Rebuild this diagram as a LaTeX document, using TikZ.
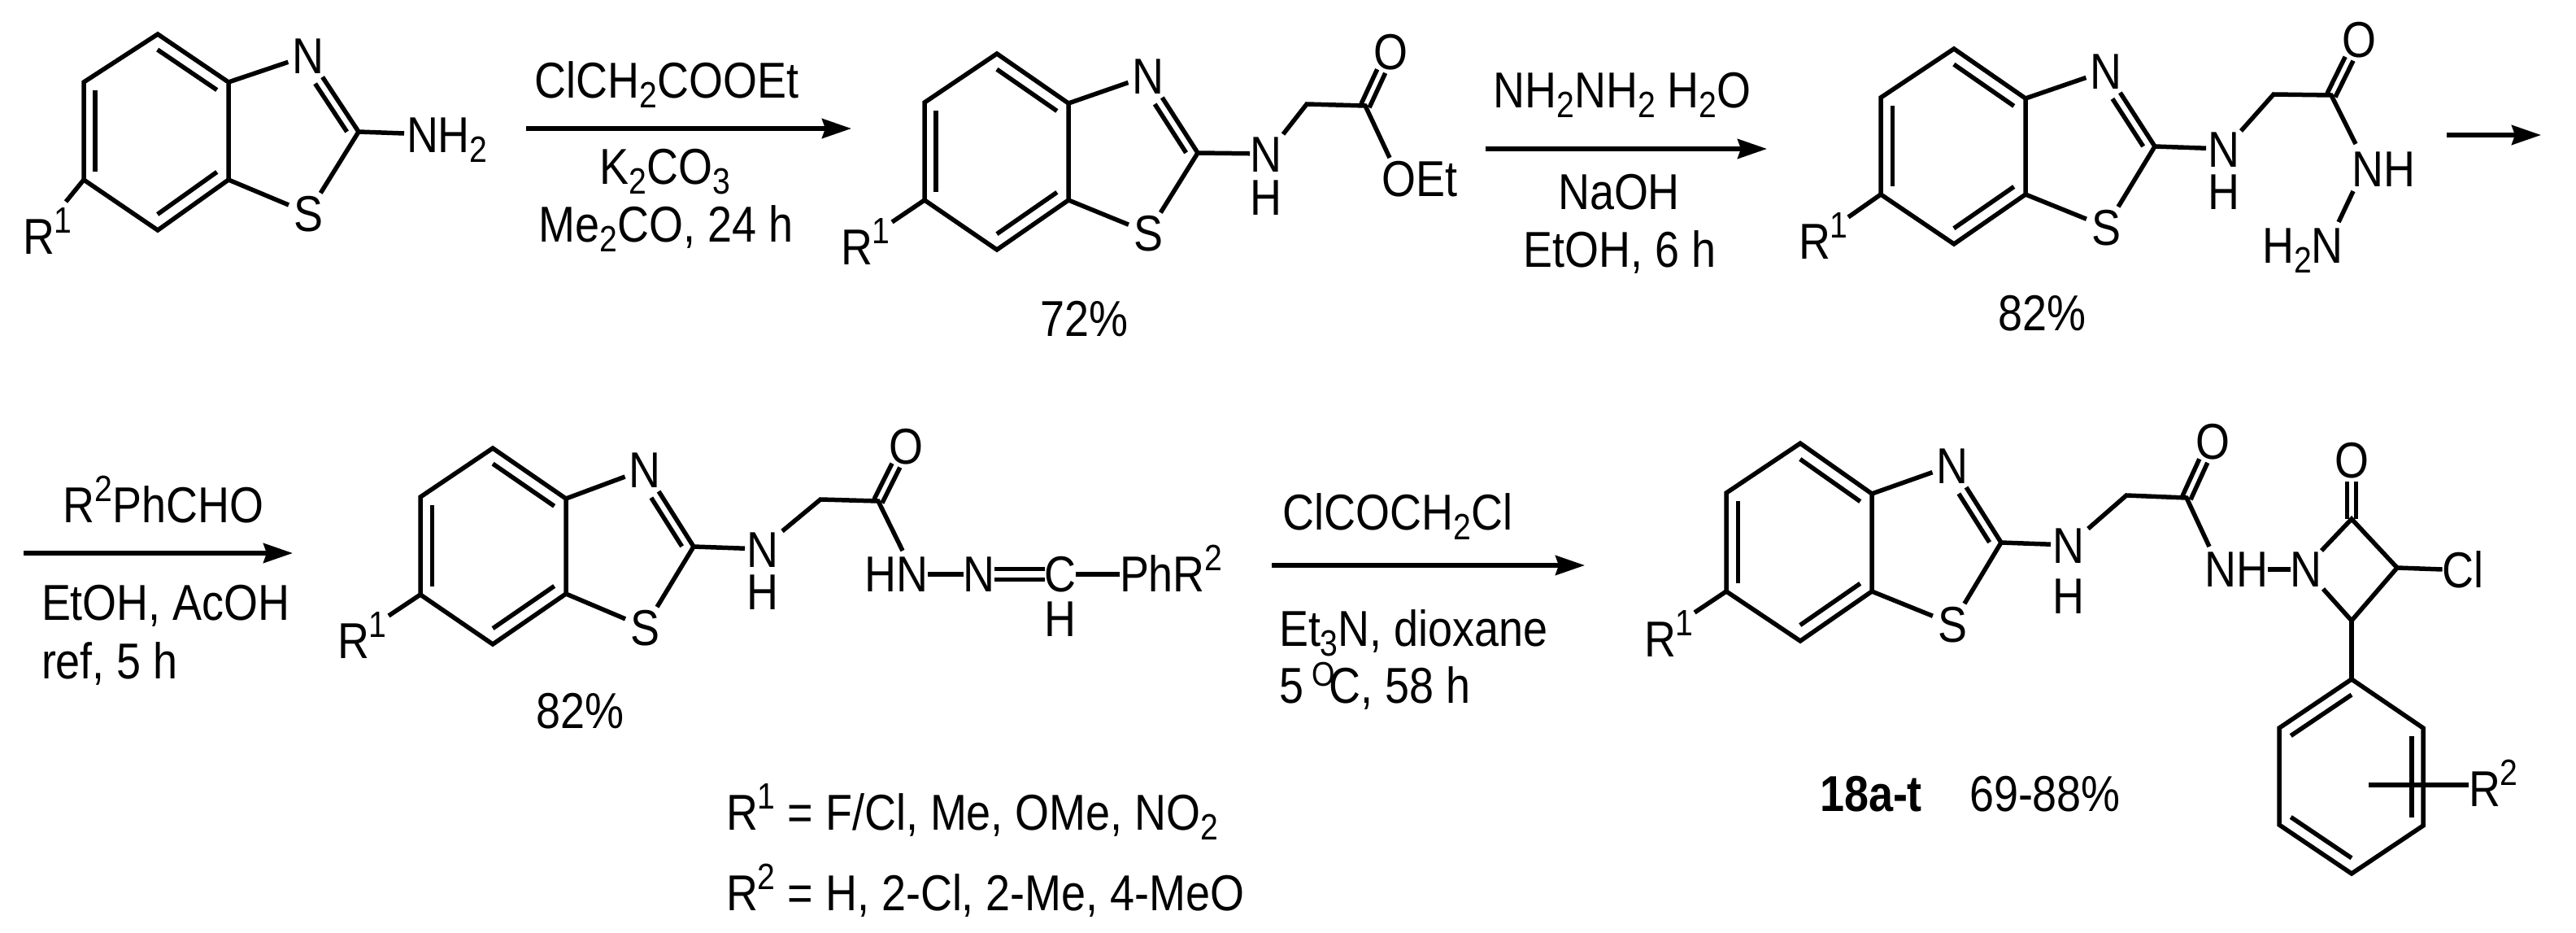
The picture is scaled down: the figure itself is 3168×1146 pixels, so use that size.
\documentclass[tikz,border=0pt]{standalone}
\usepackage{fontspec}
\setmainfont{Liberation Sans}[FakeStretch=0.87]
\usetikzlibrary{calc,arrows.meta}
\newcommand{\sbs}[1]{\raisebox{-12pt}{\fontsize{45}{45}\selectfont #1}}
\newcommand{\sps}[1]{\raisebox{26pt}{\fontsize{45}{45}\selectfont #1}}
\newcommand{\atxt}[1]{\smash{\raisebox{-22pt}{\makebox[0pt]{#1}}}}
\tikzset{
  bond/.style={line width=5.5pt,line cap=butt,line join=miter},
  rxn/.style={line width=5.5pt,-{Stealth[length=36pt,width=24pt,inset=4pt]}},
  lab/.style={inner sep=0pt,outer sep=0pt,font=\fontsize{62}{62}\selectfont},
  tight/.style={lab,anchor=center},
  atom/.style={lab,circle,minimum size=52pt}
}
% inner line of a ring double bond
\newcommand{\innr}[3]{\draw[bond] ($(#1)!.84!(#2)$) -- ($(#1)!.84!(#3)$);}
% double bond from atom #1 to labelled atom #2
\newcommand{\dbl}[2]{%
  \draw[bond] ($(#1)!5.5pt!90:(#2)$) -- ($(#2)!27pt!(#1)!5.5pt!-90:(#1)$);
  \draw[bond] ($(#1)!5.5pt!-90:(#2)$) -- ($(#2)!27pt!(#1)!5.5pt!90:(#1)$);}
% benzothiazole core, drawn from the coordinates with prefix #1
\newcommand{\core}[1]{%
  \coordinate (#1O) at ($(#1UL)!.5!(#1LR)$);
  \draw[bond] (#1T)--(#1UL)--(#1LL)--(#1B)--(#1LR)--(#1UR)--cycle;
  \innr{#1O}{#1UL}{#1LL}
  \innr{#1O}{#1T}{#1UR}
  \innr{#1O}{#1LR}{#1B}
  \node[atom] (#1n) at (#1Np) {\atxt{N}};
  \node[atom] (#1s) at (#1Sp) {\atxt{S}};
  \draw[bond] (#1UR)--(#1n);
  \draw[bond] (#1LR)--(#1s);
  \draw[bond,shorten >=6pt] (#1C)--(#1n);
  \draw[bond,shorten >=3pt] (#1C)--(#1s);
  \draw[bond] ($(#1C)!.07!(#1n)!12pt!90:(#1n)$) -- ($(#1C)!.70!(#1n)!12pt!90:(#1n)$);
}
\begin{document}
\begin{tikzpicture}[x=1pt,y=-1pt]
\useasboundingbox (0,0) rectangle (3168,1146);
\fill[white] (0,0) rectangle (3168,1146);

% ---------- molecule a
\path coordinate (aT) at (194,42) coordinate (aUL) at (103,101) coordinate (aLL) at (103,221)
      coordinate (aB) at (194,283) coordinate (aLR) at (281,221) coordinate (aUR) at (281,101)
      coordinate (aC) at (441,162) coordinate (aNp) at (379,68) coordinate (aSp) at (379,262);
\core{a}
\node[lab,anchor=base west] (anh) at (500,187) {NH\sbs{2}};
\coordinate (aq) at (497,164);
\draw[bond] (aC)--(aq);
\node[lab,anchor=base west] (ar) at (28,312) {R\sps{1}};
\coordinate (arb) at (81,248);
\draw[bond] (aLL)--(arb);

% arrow 1
\coordinate (r1a) at (647,158); \coordinate (r1b) at (1047,158);
\draw[rxn] (r1a)--(r1b);
\node[lab,anchor=base] (t1a) at (820,120) {ClCH\sbs{2}COOEt};
\node[lab,anchor=base] (t1b) at (818,226) {K\sbs{2}CO\sbs{3}};
\node[lab,anchor=base] (t1c) at (819,297) {Me\sbs{2}CO, 24 h};

% ---------- molecule b
\path coordinate (bT) at (1226,66) coordinate (bUL) at (1137,126) coordinate (bLL) at (1137,246)
      coordinate (bB) at (1226,307) coordinate (bLR) at (1314,246) coordinate (bUR) at (1314,127)
      coordinate (bC) at (1473,188) coordinate (bNp) at (1412,93) coordinate (bSp) at (1412,286);
\core{b}
\node[atom] (bnh) at (1557,189) {\atxt{N}};
\node[atom] (bh) at (1557,242) {\atxt{H}};
\coordinate (bch) at (1607,128); \coordinate (bco) at (1679,130);
\node[atom] (bo) at (1710,63) {\atxt{O}};
\node[lab,anchor=base] (boet) at (1746,241) {OEt};
\coordinate (bq) at (1709,194); \coordinate (bp) at (1578,165);
\draw[bond,shorten >=-6pt] (bC)--(bnh);
\draw[bond] (bp)--(bch)--(bco)--(bq);
\dbl{bco}{bo}
\node[lab,anchor=base west] (br) at (1034,325) {R\sps{1}};
\coordinate (brb) at (1097,273);
\draw[bond] (bLL)--(brb);
\node[lab,anchor=base] (by) at (1333,413) {72\%};

% arrow 2
\coordinate (r2a) at (1827,183); \coordinate (r2b) at (2173,183);
\draw[rxn] (r2a)--(r2b);
\node[lab,anchor=base] (t2a) at (1995,132) {NH\sbs{2}NH\sbs{2} H\sbs{2}O};
\node[lab,anchor=base] (t2b) at (1991,257) {NaOH};
\node[lab,anchor=base] (t2c) at (1992,328) {EtOH, 6 h};

% ---------- molecule c
\path coordinate (cT) at (2403,60) coordinate (cUL) at (2313,120) coordinate (cLL) at (2313,239)
      coordinate (cB) at (2403,300) coordinate (cLR) at (2491,239) coordinate (cUR) at (2491,121)
      coordinate (cC) at (2650,180) coordinate (cNp) at (2590,87) coordinate (cSp) at (2590,279);
\core{c}
\node[atom] (cnh) at (2735,183) {\atxt{N}};
\node[atom] (ch) at (2735,235) {\atxt{H}};
\coordinate (cch) at (2796,116); \coordinate (cco) at (2867,117);
\node[atom] (co) at (2901,48) {\atxt{O}};
\node[atom] (cnh2) at (2931,207) {\atxt{NH}};
\node[lab,anchor=base] (ch2n) at (2832,323) {H\sbs{2}N};
\coordinate (cq) at (2897,177); \coordinate (cp) at (2756,161);
\coordinate (cna) at (2894,235); \coordinate (cnb) at (2876,273);
\draw[bond,shorten >=-4pt] (cC)--(cnh);
\draw[bond] (cp)--(cch)--(cco)--(cq);
\draw[bond] (cna)--(cnb);
\dbl{cco}{co}
\node[lab,anchor=base west] (cr) at (2212,318) {R\sps{1}};
\coordinate (crb) at (2273,267);
\draw[bond] (cLL)--(crb);
\node[lab,anchor=base] (cy) at (2511,406) {82\%};

% arrow 3
\coordinate (r3a) at (3009,166); \coordinate (r3b) at (3125,166);
\draw[rxn] (r3a)--(r3b);

% arrow 4
\coordinate (r4a) at (29,680); \coordinate (r4b) at (360,680);
\draw[rxn] (r4a)--(r4b);
\node[lab,anchor=base] (t4a) at (201,642) {R\sps{2}PhCHO};
\node[lab,anchor=base west] (t4b) at (51,762) {EtOH, AcOH};
\node[lab,anchor=base west] (t4c) at (51,834) {ref, 5 h};

% ---------- molecule d
\path coordinate (dT) at (606,551) coordinate (dUL) at (517,611) coordinate (dLL) at (517,731)
      coordinate (dB) at (606,792) coordinate (dLR) at (696,730) coordinate (dUR) at (696,613)
      coordinate (dC) at (853,672) coordinate (dNp) at (793,577) coordinate (dSp) at (793,771);
\core{d}
\node[atom] (dnh) at (938,675) {\atxt{N}};
\node[atom] (dh) at (938,727) {\atxt{H}};
\coordinate (dch) at (1009,614); \coordinate (dco) at (1080,616);
\node[atom] (do) at (1114,548) {\atxt{O}};
\node[tight] (dhn) at (1102,706) {HN};
\node[tight] (dn) at (1204,706) {N};
\node[tight] (dc) at (1304,706) {C};
\node[atom] (dh2) at (1304,760) {\atxt{H}};
\node[lab,anchor=base west] (dp) at (1377,727) {PhR\sps{2}};
\coordinate (dq) at (1110,677); \coordinate (dpp) at (962,653);
\draw[bond,shorten >=-4pt] (dC)--(dnh);
\draw[bond] (dpp)--(dch)--(dco)--(dq);
\dbl{dco}{do}
\draw[bond] (dhn.east)--(dn.west);
\draw[bond] ([yshift=6.5pt]dn.east)--([yshift=6.5pt]dc.west);
\draw[bond] ([yshift=-6.5pt]dn.east)--([yshift=-6.5pt]dc.west);
\draw[bond] (dc.east)--(dc.east -| dp.west);
\node[lab,anchor=base west] (dr) at (415,809) {R\sps{1}};
\coordinate (drb) at (478,757);
\draw[bond] (dLL)--(drb);
\node[lab,anchor=base] (dy) at (713,895) {82\%};

% arrow 5
\coordinate (r5a) at (1564,695); \coordinate (r5b) at (1949,695);
\draw[rxn] (r5a)--(r5b);
\node[lab,anchor=base] (t5a) at (1719,651) {ClCOCH\sbs{2}Cl};
\node[lab,anchor=base west] (t5b) at (1573,794) {Et\sbs{3}N, dioxane};
\node[lab,anchor=base west] (t5c) at (1573,864) {5\,\raisebox{21pt}{\fontsize{42}{42}\selectfont O}\kern-7pt C, 58 h};

% substituents
\node[lab,anchor=base west] (s1) at (893,1020) {R\sps{1} = F/Cl, Me, OMe, NO\sbs{2}};
\node[lab,anchor=base west] (s2) at (893,1119) {R\sps{2} = H, 2-Cl, 2-Me, 4-MeO};

% ---------- molecule e
\path coordinate (eT) at (2214,545) coordinate (eUL) at (2123,606) coordinate (eLL) at (2123,727)
      coordinate (eB) at (2214,788) coordinate (eLR) at (2302,727) coordinate (eUR) at (2302,607)
      coordinate (eC) at (2461,667) coordinate (eNp) at (2401,572) coordinate (eSp) at (2401,767);
\core{e}
\node[atom] (enh) at (2544,670) {\atxt{N}};
\node[atom] (eh) at (2544,732) {\atxt{H}};
\coordinate (ech) at (2615,609); \coordinate (eco) at (2689,612);
\node[atom] (eo) at (2721,542) {\atxt{O}};
\node[tight] (ehn) at (2750,700) {NH};
\node[tight] (en) at (2836,700) {N};
\node[atom] (eo2) at (2892,565) {\atxt{O}};
\node[tight] (ecl) at (3029,700) {Cl};
\coordinate (eq) at (2717,672); \coordinate (epp) at (2568,650);
\coordinate (ek1) at (2855,677); \coordinate (ek2) at (2892,638); \coordinate (ek3) at (2948,698);
\coordinate (ek4) at (2892,763); \coordinate (ek5) at (2857,724);
\coordinate (ep1) at (2892,835); \coordinate (ep2) at (2980,895); \coordinate (ep3) at (2980,1015);
\coordinate (ep4) at (2892,1074); \coordinate (ep5) at (2803,1014); \coordinate (ep6) at (2803,895);
\coordinate (epO) at ($(ep1)!.5!(ep4)$);
\draw[bond,shorten >=-4pt] (eC)--(enh);
\draw[bond] (epp)--(ech)--(eco)--(eq);
\dbl{eco}{eo}
\draw[bond] (ehn.east)--(en.west);
\draw[bond] (ek1)--(ek2)--(ek3)--(ek4)--(ek5);
\dbl{ek2}{eo2}
\draw[bond] (ek3)--(ecl.west);
\draw[bond] (ek4)--(ep1);
\draw[bond] (ep1)--(ep2)--(ep3)--(ep4)--(ep5)--(ep6)--cycle;
\innr{epO}{ep1}{ep6}
\innr{epO}{ep2}{ep3}
\innr{epO}{ep4}{ep5}
\node[lab,anchor=base west] (er2) at (3036,991) {R\sps{2}};
\coordinate (es) at (2913,965);
\draw[bond] (es)--(es -| er2.west);
\node[lab,anchor=base west] (er) at (2022,807) {R\sps{1}};
\coordinate (erb) at (2084,753);
\draw[bond] (eLL)--(erb);
\node[lab,anchor=base west] (en18) at (2238,997) {\bfseries 18a-t};
\node[lab,anchor=base west] (ey) at (2422,997) {69-88\%};
\end{tikzpicture}
\end{document}
